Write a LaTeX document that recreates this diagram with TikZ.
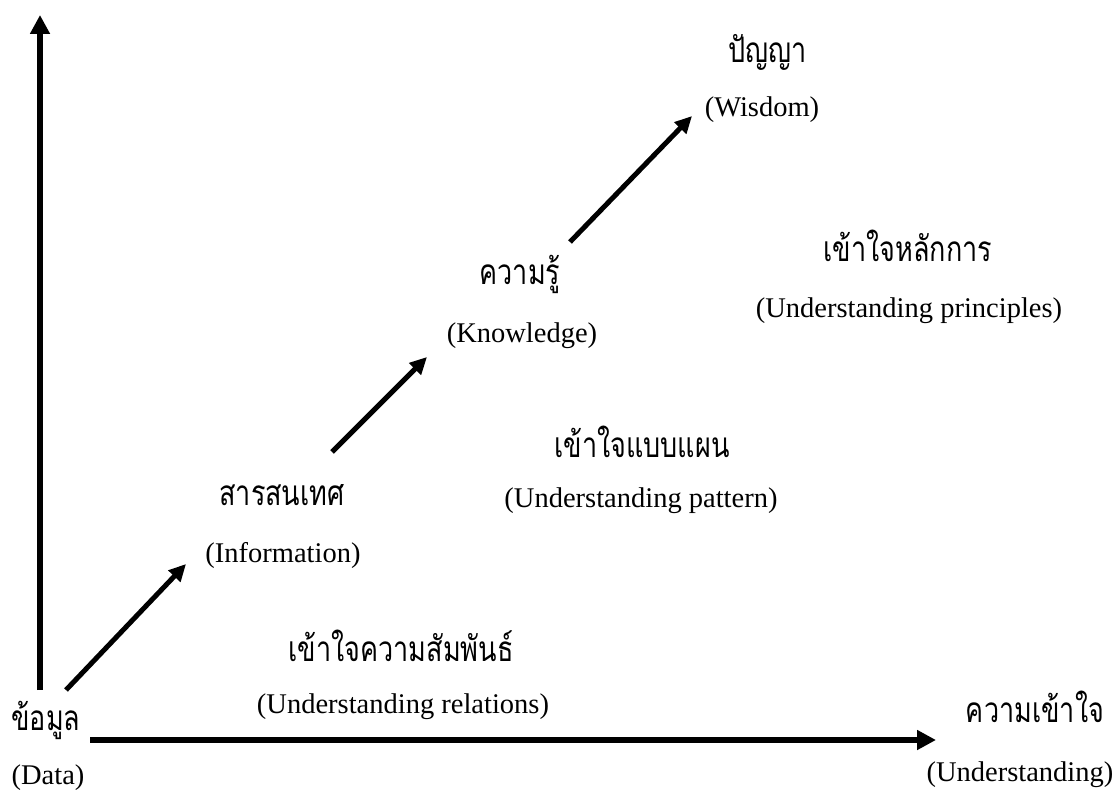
\documentclass[tikz,border=0pt]{standalone}
\usepackage{fontspec}
\usepackage{graphicx}
\setmainfont{Liberation Serif}
\newfontfamily\thai[Script=Thai]{Loma}
\newcommand\thtxt[1]{\scalebox{1}[1.3]{\thai #1}}
\usetikzlibrary{arrows.meta}
\tikzset{
  axis/.style={line width=6.5pt,-{Triangle[width=19pt,length=19pt]}},
  stage/.style={line width=5pt,-{Triangle[width=16pt,length=17pt]}},
  th/.style={font=\fontsize{27}{30}\selectfont,inner sep=0pt,anchor=base},
  en/.style={font=\fontsize{28.5}{32}\selectfont,inner sep=0pt,anchor=base},
}
\begin{document}
\begin{tikzpicture}[x=1pt,y=-1pt]
\useasboundingbox (0,0) rectangle (1113,791);
% axes
\coordinate (yb) at (40,690);
\coordinate (yt) at (40,15);
\coordinate (xl) at (90,740);
\coordinate (xr) at (936,740);
\draw[axis] (yb) -- (yt);
\draw[axis] (xl) -- (xr);
% labels
\node[th] (dataT) at (46,730) {\thtxt{ข้อมูล}};
\node[en] (dataE) at (48,784) {(Data)};
\node[th] (undT) at (1035,722) {\thtxt{ความเข้าใจ}};
\node[en] (undE) at (1020,781) {(Understanding)};
\node[th] (infoT) at (282,505) {\thtxt{สารสนเทศ}};
\node[en] (infoE) at (283,562) {(Information)};
\node[th] (knowT) at (520,285) {\thtxt{ความรู้}};
\node[en] (knowE) at (522,342) {(Knowledge)};
\node[th] (wisT) at (768,63) {\thtxt{ปัญญา}};
\node[en] (wisE) at (762,117) {(Wisdom)};
\node[th] (relT) at (401,661) {\thtxt{เข้าใจความสัมพันธ์}};
\node[en] (relE) at (403,713) {(Understanding relations)};
\node[th] (patT) at (642,457) {\thtxt{เข้าใจแบบแผน}};
\node[en] (patE) at (641,507) {(Understanding pattern)};
\node[th] (priT) at (908,262) {\thtxt{เข้าใจหลักการ}};
\node[en] (priE) at (909,318) {(Understanding principles)};
% stage arrows
\coordinate (s1) at (66,690);
\coordinate (e1) at (186,564);
\coordinate (s2) at (332,452);
\coordinate (e2) at (427,357);
\coordinate (s3) at (570,242);
\coordinate (e3) at (692,116);
\draw[stage] (s1) -- (e1);
\draw[stage] (s2) -- (e2);
\draw[stage] (s3) -- (e3);
\end{tikzpicture}
\end{document}
